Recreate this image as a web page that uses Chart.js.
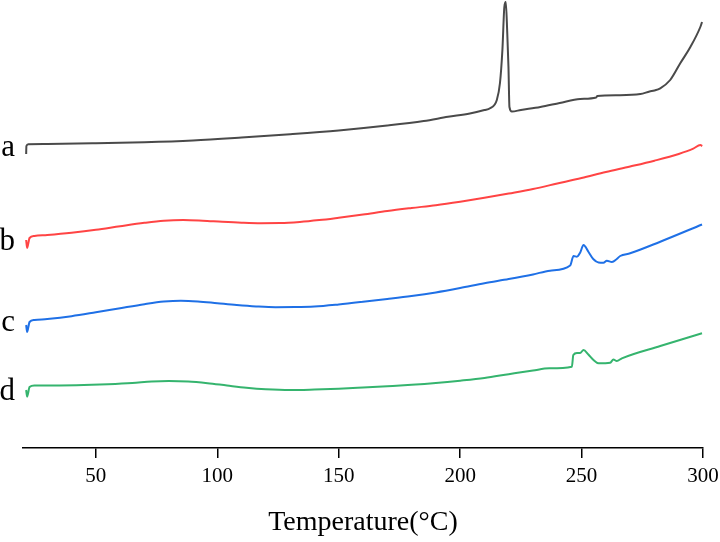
<!DOCTYPE html>
<html>
<head>
<meta charset="utf-8">
<title>DSC curves</title>
<script src="https://cdn.jsdelivr.net/npm/chart.js@4.4.0/dist/chart.umd.min.js"></script>
<style>
  html, body { margin: 0; padding: 0; background: #fff; }
  #wrap { width: 720px; height: 542px; position: relative; }
</style>
</head>
<body>
<div id="wrap"><canvas id="dscChart"></canvas></div>
<script>
// x ticks and curve labels
const xTicks = [50, 100, 150, 200, 250, 300];
const curveNames = ['a', 'b', 'c', 'd'];
const labelPos = [300, 206, 125.5, 56];   // where each letter sits on the (offset) y scale

// curve a (gray)
const tempA = [21.3, 21.4, 22.2, 30, 50, 70, 90, 110, 130, 150, 170, 185, 195, 204, 210, 212.3,
  215.1, 216.4, 217.4, 218.2, 218.8, 219.4, 219.9, 220.3, 221.3, 225, 233, 241, 249.4, 256.0,
  256.5, 265, 274.2, 278, 280, 282.4, 286.5, 290.7, 294.8, 298.9, 299.6];
const valA = [294, 302, 303.8, 304, 304.7, 305.8, 307.6, 310.5, 313.8, 317.6, 322.5, 327, 331.2,
  334.5, 338, 339.7, 348, 365, 398, 441, 446, 415, 381, 341, 336.5, 338, 341, 345, 349, 350.5,
  352, 352.8, 354, 356.5, 357.5, 359.7, 368, 385, 401, 421, 426];

// curve b (red)
const tempB = [21.3, 21.7, 22.7, 24.7, 30, 40, 50, 60, 70, 78, 86, 94, 102, 110, 118, 126, 134,
  142, 150, 160, 170, 180, 190, 200, 210, 220, 230, 240, 250, 260, 270, 280, 290, 296, 298.9, 299.7];
const valB = [208, 200, 210, 212, 213, 215.3, 218.2, 221.8, 225.2, 227.3, 228, 227.3, 226.2, 225.3,
  224.8, 224.9, 226, 227.9, 230.3, 233.5, 237, 240, 242.8, 246.3, 250.2, 254.5, 259, 264.5, 270,
  276, 281.5, 287.3, 294, 299.3, 303, 302];

// curve c (blue)
const tempC = [21.3, 21.7, 22.7, 24.7, 30, 40, 50, 60, 70, 78, 85, 92, 100, 108, 116, 124, 132,
  140, 150, 160, 170, 180, 190, 200, 210, 220, 230, 237, 245.3, 246.7, 248.1, 249.4, 250.8, 252.8,
  254.9, 257, 259.0, 260.4, 262.5, 264.5, 265.9, 270.0, 282.4, 299.6];
const valC = [123, 116, 126, 128, 129, 131.8, 135.7, 139.8, 143.8, 146.4, 147.3, 146.6, 144.8, 143,
  141.6, 140.8, 140.9, 141.5, 143.6, 146.2, 149, 152, 155.6, 160, 164.8, 169, 173.6, 177.3, 182.5,
  192, 191.3, 195.3, 203, 196.3, 188.7, 185.5, 185.3, 187.3, 186, 189, 192, 194.7, 206.3, 223.5];

// curve d (green)
const tempD = [21.3, 21.7, 22.7, 24.7, 35, 45, 55, 65, 73, 80, 88, 96, 104, 112, 120, 130, 140,
  150, 160, 170, 180, 190, 200, 210, 220, 230, 236.7, 246, 246.6, 248.1, 249.4, 250.8, 252.8, 254.9,
  257, 261.8, 263.1, 264.5, 266.6, 282.4, 299.6];
const valD = [58, 51.3, 61, 62.5, 62.6, 63, 63.8, 65, 66.5, 67, 66.5, 64.8, 62.5, 60.3, 58.8, 58,
  58.5, 59.3, 60.5, 61.8, 63.2, 65, 67.3, 70, 73.8, 77.5, 79.7, 81.3, 93, 95, 95, 98, 93.5, 88,
  84.7, 85.3, 88.5, 87, 89.7, 102, 114.7];

function toPoints(xs, ys) {
  return xs.map((x, i) => ({ x: x, y: ys[i] }));
}

function line(label, xs, ys, color) {
  return {
    label: label,
    data: toPoints(xs, ys),
    borderColor: color,
    borderWidth: 2,
    pointRadius: 0,
    cubicInterpolationMode: 'monotone',
    fill: false,
    clip: false
  };
}

const serif = "'Liberation Serif', 'Times New Roman', serif";

new Chart(document.getElementById('dscChart'), {
  type: 'line',
  data: {
    datasets: [
      line('a', tempA, valA, '#4a4a4a'),
      line('b', tempB, valB, '#ff4444'),
      line('c', tempC, valC, '#1f70e6'),
      line('d', tempD, valD, '#35b46e')
    ]
  },
  options: {
    responsive: true,
    maintainAspectRatio: false,
    animation: false,
    layout: { padding: { left: 0, right: 17, top: 0, bottom: 0 } },
    plugins: {
      legend: { display: false },
      tooltip: { enabled: false }
    },
    scales: {
      x: {
        type: 'linear',
        min: 20,
        max: 300,
        afterBuildTicks: function(scale) {
          scale.ticks = xTicks.map(v => ({ value: v }));
        },
        afterFit: function(scale) {
          scale.height = 94;
          scale.paddingLeft = 0;
          scale.paddingRight = 0;
        },
        border: { display: true, color: '#000', width: 1.5 },
        grid: {
          drawOnChartArea: false,
          drawTicks: true,
          tickLength: 10,
          color: '#000',
          lineWidth: 1.5
        },
        ticks: {
          padding: 6,
          color: '#000',
          maxRotation: 0,
          font: { family: serif, size: 21 }
        },
        title: {
          display: true,
          text: 'Temperature(°C)',
          color: '#000',
          font: { family: serif, size: 28 },
          padding: { top: 16, bottom: 3 }
        }
      },
      y: {
        type: 'linear',
        min: 0,
        max: 448,
        afterBuildTicks: function(scale) {
          scale.ticks = labelPos.map(v => ({ value: v }));
        },
        afterFit: function(scale) {
          scale.width = 23;
          scale.paddingTop = 0;
          scale.paddingBottom = 0;
        },
        border: { display: false },
        grid: { display: false, drawTicks: false },
        ticks: {
          padding: 8,
          color: '#000',
          font: { family: serif, size: 31 },
          callback: function(value, index) {
            return curveNames[index];
          }
        }
      }
    }
  }
});
</script>
</body>
</html>
